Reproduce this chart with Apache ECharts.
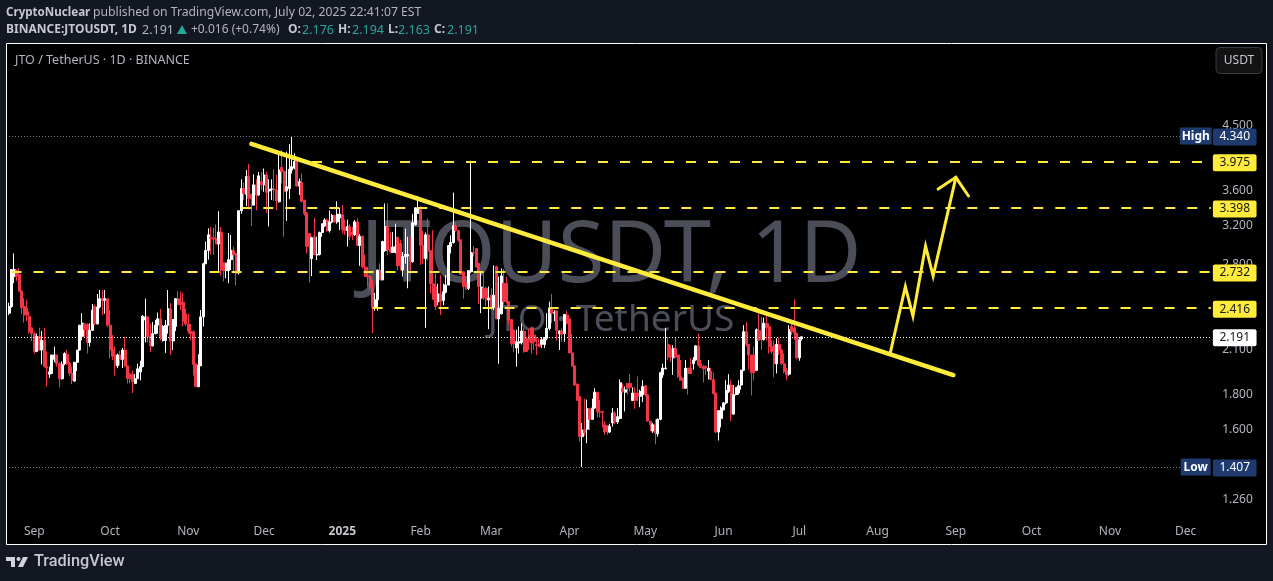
<!DOCTYPE html>
<html><head><meta charset="utf-8">
<style>html,body{margin:0;padding:0;background:#131722}#c{width:1273px;height:581px}</style>
<script src="https://cdn.jsdelivr.net/npm/echarts@6/dist/echarts.min.js"></script>
</head><body><div id="c"></div>
<script>
// [open, close, low, high]
const candlesA=[
[2.375,2.43,2.36,2.46],[2.43,2.755,2.42,2.76],[2.69,2.755,2.63,2.91],[2.75,2.69,2.65,2.755],[2.71,2.56,2.555,2.77],[2.56,2.42,2.365,2.57],[2.43,2.36,2.30,2.50],[2.415,2.36,2.31,2.485],[2.35,2.23,2.215,2.39],[2.26,2.215,2.16,2.265],
[2.215,2.085,2.07,2.23],[2.085,2.195,2.08,2.215],[2.195,2.095,2.09,2.26],[2.095,2.165,1.995,2.235],[2.165,1.98,1.975,2.26],[1.98,1.97,1.85,2.085],[1.93,1.945,1.905,1.98],[1.935,2.06,1.93,2.06],[2.03,2.06,2.01,2.12],[2.06,2.00,1.98,2.06],
[2.00,1.90,1.845,2.01],[1.90,1.995,1.895,2.015],[2.00,2.07,1.99,2.08],[2.065,2.00,1.99,2.095],[2.005,1.935,1.915,2.01],[1.935,1.89,1.865,1.98],[1.885,2.01,1.88,2.01],[2.01,2.095,1.95,2.095],[2.095,2.28,2.09,2.28],[2.195,2.295,2.165,2.375],
[2.29,2.245,2.19,2.295],[2.285,2.15,2.07,2.295],[2.15,2.24,2.12,2.295],[2.24,2.40,2.24,2.45],[2.43,2.29,2.28,2.445],[2.29,2.425,2.285,2.535],[2.425,2.495,2.415,2.57],[2.495,2.48,2.36,2.57],[2.48,2.495,2.37,2.57],[2.495,2.28,2.265,2.495],
[2.28,2.095,2.035,2.40],[2.10,2.05,2.025,2.205],[2.06,1.99,1.92,2.12],[1.985,2.06,1.97,2.07],[2.06,2.03,1.99,2.09],[2.03,2.095,1.97,2.11],[2.095,1.985,1.98,2.19],[1.985,1.90,1.87,1.99],[1.93,1.90,1.87,1.94],[1.93,1.88,1.81,1.955],
[1.87,1.90,1.865,1.93],[1.90,1.965,1.90,2.00],[1.945,1.98,1.89,2.02],[1.98,2.35,1.975,2.36],[2.32,2.345,2.15,2.495],[2.345,2.19,2.15,2.345],[2.20,2.125,2.08,2.295],[2.125,2.215,2.12,2.305],[2.215,2.28,2.21,2.32],[2.28,2.33,2.215,2.38],
[2.33,2.18,2.165,2.41],[2.165,2.27,2.155,2.28],[2.165,2.28,2.075,2.32],[2.28,2.41,2.215,2.57],[2.41,2.16,2.06,2.46],[2.16,2.325,2.095,2.325],[2.27,2.495,2.235,2.50],[2.495,2.445,2.445,2.56],[2.47,2.445,2.40,2.555],[2.465,2.31,2.27,2.545],
[2.37,2.29,2.275,2.41],[2.29,2.235,2.215,2.37],[2.235,2.215,2.165,2.29],[2.23,1.995,1.92,2.24],[2.00,1.85,1.85,2.00],[1.85,1.99,1.845,2.065],[1.985,2.345,1.985,2.40],[2.345,2.81,2.27,2.82],[2.81,2.94,2.805,3.03],[2.94,3.10,2.85,3.17],
[3.075,3.065,2.90,3.185],[3.07,3.055,2.895,3.175],[3.06,3.005,3.005,3.21],[3.005,3.13,2.725,3.36],[3.13,2.75,2.70,3.185],[2.82,2.745,2.645,2.82],[2.745,2.815,2.675,2.82],[2.745,2.85,2.63,3.12],[2.85,2.94,2.75,3.10],[2.94,2.895,2.72,2.98],
[2.91,2.72,2.61,2.91],[2.725,3.365,2.71,3.37],[3.365,3.63,3.33,3.745],[3.63,3.57,3.49,3.705],[3.56,3.78,3.42,3.865],[3.78,3.51,3.38,3.945],[3.56,3.50,3.195,3.56],[3.43,3.675,3.43,3.81],[3.675,3.55,3.37,3.745],[3.55,3.79,3.54,3.84],
[3.715,3.675,3.61,3.84],[3.675,3.80,3.59,3.885],[3.80,3.58,3.34,3.84],[3.60,3.62,3.19,3.745]];
const candlesB=[
[3.62,3.625,3.49,3.745],[3.62,3.61,3.48,3.875],[3.61,3.48,3.37,3.80],[3.47,3.865,3.46,4.105],[3.90,3.845,3.695,4.14],[3.845,3.59,3.08,3.865],[3.60,3.65,3.25,4.115],[3.63,3.875,3.50,4.22],[3.865,3.91,3.82,4.34],[3.89,3.98,3.875,4.09],
[3.99,3.66,3.655,3.99],[3.66,3.715,3.55,3.755],[3.705,3.475,3.46,3.82],[3.49,3.33,3.31,3.49],[3.34,2.98,2.91,3.35],[3.115,2.98,2.635,3.115],[2.86,3.07,2.695,3.08],[3.08,2.895,2.895,3.285],[2.895,2.90,2.845,3.08],[2.90,3.125,2.89,3.135],
[3.125,3.22,3.08,3.22],[3.195,3.26,3.185,3.28],[3.26,3.145,3.135,3.28],[3.145,3.24,3.125,3.37],[3.24,3.31,3.225,3.33],[3.31,3.24,3.23,3.32],[3.24,3.325,3.22,3.475],[3.285,3.325,3.15,3.40],[3.32,3.16,3.115,3.43],[3.185,3.145,3.10,3.265],
[3.145,3.19,2.98,3.265],[3.19,3.085,3.045,3.215],[3.13,3.10,3.045,3.185],[3.10,3.24,3.09,3.26],[3.24,2.99,2.99,3.28],[2.99,3.085,2.79,3.11],[3.085,2.78,2.765,3.095],[2.78,2.69,2.69,2.90],[2.695,2.685,2.60,2.78],[2.69,2.59,2.565,2.705],
[2.59,2.42,2.22,2.66],[2.42,2.485,2.395,2.545],[2.485,2.75,2.395,2.755],[2.75,2.66,2.66,2.815],[2.66,3.03,2.655,3.04],[2.94,3.19,2.925,3.45],[3.19,2.945,2.895,3.45],[2.955,2.925,2.91,3.13],[2.92,2.975,2.92,3.13],[2.92,2.98,2.91,3.22],
[3.075,2.79,2.75,3.075],[3.01,2.79,2.745,3.045],[2.75,2.88,2.69,2.925],[2.88,2.90,2.81,3.165],[2.885,2.90,2.585,3.08],[2.90,2.83,2.735,3.08],[2.83,3.23,2.82,3.33],[3.21,3.40,3.20,3.40],[3.335,3.40,3.33,3.54],[3.40,2.99,2.80,3.42],
[2.99,2.86,2.81,3.145],[2.86,3.10,2.26,3.125],[3.10,2.935,2.845,3.28],[2.94,2.625,2.54,2.94],[2.625,2.49,2.485,3.15],[2.60,2.43,2.40,2.72],[2.47,2.535,2.44,2.625],[2.535,2.47,2.36,2.705],[2.48,2.555,2.44,2.625],[2.55,2.615,2.54,2.705],
[2.615,2.99,2.61,2.995],[2.98,3.02,2.91,3.095],[3.02,3.20,3.01,3.58],[3.20,3.145,3.135,3.235],[3.145,3.045,3.03,3.15],[3.05,2.71,2.705,3.05],[2.735,2.60,2.495,2.735],[2.635,2.585,2.57,2.69],[2.585,2.745,2.57,2.75],[2.735,2.92,2.72,3.99],
[2.92,2.915,2.88,2.985],[2.96,2.78,2.775,2.96],[2.815,2.60,2.45,2.815],[2.50,2.595,2.375,2.735],[2.585,2.50,2.485,2.735],[2.585,2.485,2.43,2.60],[2.485,2.50,2.25,2.60],[2.525,2.42,2.40,2.585],[2.42,2.525,2.40,2.795],[2.785,2.33,2.33,2.79],
[2.33,2.415,2.00,2.69],[2.37,2.695,2.365,2.765],[2.63,2.47,2.445,2.76],[2.63,2.47,2.455,2.69],[2.47,2.32,2.285,2.47],[2.325,2.14,2.12,2.325],[2.24,2.14,2.08,2.25],[2.11,2.155,1.98,2.245],[2.145,2.155,2.07,2.27],[2.15,2.235,2.135,2.295],
[2.235,2.085,2.075,2.26],[2.18,2.085,2.08,2.19],[2.205,2.155,2.095,2.25],[2.26,2.145,2.07,2.27],[2.205,2.155,2.095,2.265],[2.135,2.125,2.06,2.19],[2.14,2.12,2.12,2.18]];
const candlesC=[
[2.135,2.17,2.11,2.19],[2.135,2.18,2.11,2.19],[2.18,2.255,2.165,2.375],[2.255,2.415,2.24,2.47],[2.415,2.375,2.295,2.535],[2.375,2.38,2.31,2.40],[2.395,2.24,2.165,2.395],[2.215,2.235,2.095,2.24],[2.235,2.21,2.155,2.255],[2.215,2.365,2.155,2.365],
[2.36,2.295,2.285,2.395],[2.33,2.075,2.07,2.33],[2.075,1.985,1.98,2.215],[1.985,1.86,1.855,1.985],[1.865,1.765,1.765,1.87],[1.79,1.56,1.535,1.79],[1.56,1.595,1.407,1.635],[1.60,1.58,1.565,1.775],[1.60,1.715,1.525,1.77],[1.715,1.655,1.595,1.72],
[1.655,1.72,1.655,1.775],[1.72,1.815,1.715,1.84],[1.815,1.70,1.665,1.815],[1.70,1.695,1.665,1.77],[1.70,1.695,1.61,1.70],[1.625,1.585,1.57,1.645],[1.62,1.585,1.57,1.62],[1.585,1.615,1.58,1.63],[1.635,1.69,1.615,1.72],[1.69,1.64,1.63,1.70],
[1.64,1.67,1.63,1.72],[1.66,1.875,1.655,1.895],[1.84,1.82,1.81,1.87],[1.815,1.83,1.70,1.85],[1.87,1.84,1.80,1.87],[1.87,1.845,1.82,1.93],[1.765,1.81,1.76,1.845],[1.81,1.765,1.715,1.845],[1.81,1.79,1.76,1.915],[1.79,1.82,1.725,1.83],
[1.80,1.85,1.755,1.89],[1.855,1.80,1.79,1.855],[1.80,1.645,1.645,1.80],[1.645,1.625,1.59,1.645],[1.59,1.625,1.58,1.635],[1.625,1.58,1.52,1.655],[1.575,1.655,1.56,1.66],[1.655,1.94,1.65,1.945],[1.925,1.97,1.905,2.00],[1.965,1.97,1.965,2.26],
[2.135,2.045,2.025,2.19],[2.105,2.045,2.015,2.13],[2.04,2.105,1.925,2.13],[2.105,2.045,2.045,2.19],[2.06,1.915,1.905,2.06],[1.915,1.89,1.89,2.025],[1.905,1.84,1.835,1.905],[1.84,1.97,1.835,2.025],[1.97,1.935,1.80,1.97],[1.97,1.935,1.935,2.04],
[2.00,2.025,1.96,2.045],[2.025,2.125,2.02,2.13],[2.125,1.99,1.985,2.215],[2.00,1.975,1.97,2.025],[1.98,1.965,1.875,1.99],[1.98,1.97,1.925,1.99],[1.95,1.97,1.895,2.025],[1.95,1.895,1.895,1.97],[1.895,1.805,1.805,1.94],[1.81,1.585,1.58,1.81],
[1.585,1.705,1.54,1.705],[1.66,1.72,1.61,1.73],[1.71,1.75,1.705,1.755],[1.75,1.825,1.74,1.89],[1.82,1.86,1.81,1.93],[1.86,1.685,1.645,1.89],[1.685,1.80,1.68,1.86],[1.80,1.845,1.795,1.845],[1.81,1.855,1.80,1.89],[1.86,1.955,1.83,1.96],
[1.955,2.23,1.95,2.28],[2.23,2.135,2.12,2.305],[2.135,2.06,1.96,2.135],[2.06,1.94,1.795,2.06],[2.06,1.94,1.89,2.12],[1.955,2.245,1.95,2.255],[2.24,2.165,2.165,2.415],[2.24,2.17,2.095,2.345],[2.17,2.295,2.165,2.34],[2.295,2.26,2.165,2.375],
[2.27,2.12,2.07,2.295],[2.12,2.085,2.07,2.165],[2.13,2.00,1.91,2.165],[2.00,2.135,1.935,2.18],[2.135,2.095,2.06,2.185],[2.095,2.00,1.99,2.105],[2.00,1.945,1.935,2.07],[1.955,1.925,1.89,1.97],[1.93,2.245,1.92,2.28],[2.27,2.23,2.205,2.295],
[2.26,2.22,2.17,2.49],[2.22,2.04,2.03,2.22],[2.04,2.17,2.02,2.19],[2.176,2.191,2.163,2.194]];
const firstDate='2024-08-22', dayCount=477;
const monthLabels={'2024-09-01':'Sep','2024-10-01':'Oct','2024-11-01':'Nov','2024-12-01':'Dec','2025-01-01':'2025','2025-02-01':'Feb','2025-03-01':'Mar','2025-04-01':'Apr','2025-05-01':'May','2025-06-01':'Jun','2025-07-01':'Jul','2025-08-01':'Aug','2025-09-01':'Sep','2025-10-01':'Oct','2025-11-01':'Nov','2025-12-01':'Dec'};
const priceTicks=[1.26,1.6,1.8,2.1,2.8,3.2,3.6,4.5];
// [price, first date index of the dashed line]
const levels=[[3.975,120],[3.398,92],[2.732,1],[2.416,144]];
const currentPrice=2.191, highPrice=4.340, lowPrice=1.407;
const trendline=[[96,4.225],[374,1.924]];
const arrowPath=[[349,2.072],[355,2.599],[358,2.352],[363,2.985],[366,2.695],[375,3.770]];
const arrowHead=[[368,3.623],[375,3.770],[380,3.538]];

const YEL='#FFEB3B', TXT='#b2b5be', FONT='"Noto Sans",sans-serif', NAVY='#1e3a6e', TEAL='#26a69a', BOLD='#c5c8cf';
const candles=candlesA.concat(candlesB,candlesC);
const dates=[];
{const d0=Date.parse(firstDate+'T00:00:00Z');
 for(let i=0;i<dayCount;i++)dates.push(new Date(d0+i*864e5).toISOString().slice(0,10));}
const last=dates.length-1;

function tag(v,bg,fg){return {
  formatter:v.toFixed(3),position:'end',distance:2,offset:[0,1],color:fg,backgroundColor:bg,
  padding:[4,6.5,1,6.5],lineHeight:12,fontSize:12,fontFamily:FONT,borderRadius:2,show:true};}
const markData=[];
levels.forEach(([v,s])=>markData.push([{coord:[s,v],lineStyle:{color:YEL,width:2,type:[10,12]},label:tag(v,YEL,'#131722')},{coord:[last,v]}]));
markData.push([{coord:[0,currentPrice],lineStyle:{color:'#ffffff',width:1,type:[1,2]},label:tag(currentPrice,'#ffffff','#131722')},{coord:[last,currentPrice]}]);
markData.push([{coord:[0,highPrice],lineStyle:{color:'#787b86',width:1,type:[1,2]},label:tag(highPrice,NAVY,'#ffffff')},{coord:[last,highPrice]}]);
markData.push([{coord:[0,lowPrice],lineStyle:{color:'#787b86',width:1,type:[1,2]},label:tag(lowPrice,NAVY,'#ffffff')},{coord:[last,lowPrice]}]);

function lineSeries(d,w){return {type:'line',data:d,showSymbol:false,symbol:'none',silent:true,z:6,animation:false,
  lineStyle:{color:YEL,width:w,cap:'round',join:'miter'}};}
function headText(text,x,y,font,fill){return {type:'text',silent:true,x,y,style:{text,font:font+' '+FONT,fill,textVerticalAlign:'middle'}};}

const chart=echarts.init(document.getElementById('c'),null,{renderer:'canvas'});
chart.setOption({
  animation:false,backgroundColor:'#131722',
  grid:{left:7.74,top:43.5,width:1204.4,height:501,containLabel:false},
  xAxis:{type:'category',data:dates,boundaryGap:true,
    axisLine:{show:false},axisTick:{show:false},splitLine:{show:false},
    axisLabel:{inside:true,margin:7,color:TXT,fontSize:12,fontFamily:FONT,hideOverlap:false,
      interval:(i,v)=>monthLabels[v]!==undefined,
      formatter:v=>monthLabels[v]==='2025'?'{y|2025}':(monthLabels[v]||''),
      rich:{y:{fontWeight:'bold',color:BOLD,fontSize:12,fontFamily:FONT}}}},
  yAxis:{type:'log',logBase:10,position:'right',min:1.081,max:5.945,
    axisLine:{show:false},axisTick:{show:false},splitLine:{show:false},minorSplitLine:{show:false},
    axisLabel:{customValues:priceTicks,margin:10,color:TXT,fontSize:12,fontFamily:FONT,showMinLabel:true,showMaxLabel:true,
      formatter:v=>Number(v).toFixed(3)}},
  series:[
    {type:'candlestick',data:candles,barWidth:2.5,silent:true,z:3,
     itemStyle:{color:'#ffffff',color0:'#f23645',borderColor:'#ffffff',borderColor0:'#f23645',borderWidth:1},
     markLine:{silent:true,symbol:'none',animation:false,data:markData},
     markPoint:{silent:true,animation:false,data:[
       {coord:[470,highPrice],symbol:'rect',symbolSize:[32,17],itemStyle:{color:NAVY},
        label:{show:true,formatter:'High',color:'#fff',fontSize:12,fontFamily:FONT,fontWeight:'bold',position:'inside',offset:[0,1]}},
       {coord:[470,lowPrice],symbol:'rect',symbolSize:[30,17],itemStyle:{color:NAVY},
        label:{show:true,formatter:'Low',color:'#fff',fontSize:12,fontFamily:FONT,fontWeight:'bold',position:'inside',offset:[0,1]}}]}},
    lineSeries(trendline,4.5),lineSeries(arrowPath,3),lineSeries(arrowHead,3)
  ],
  graphic:[
    {type:'rect',z:-10,silent:true,shape:{x:6.5,y:43.5,width:1260,height:501},style:{fill:'#000',stroke:'#fff',lineWidth:1}},
    {type:'text',z:-5,silent:true,x:611,y:258,style:{text:'JTOUSDT, 1D',fill:'#4b4e59',font:'85px '+FONT,textAlign:'center',textVerticalAlign:'middle'}},
    {type:'text',z:-5,silent:true,x:611,y:320,style:{text:'JTO · TetherUS',fill:'#4b4e59',font:'37px '+FONT,textAlign:'center',textVerticalAlign:'middle'}},
    headText('CryptoNuclear',6,13,'bold 11.6px',BOLD),
    headText('published on TradingView.com, July 02, 2025 22:41:07 EST',93,13,'12.2px',TXT),
    headText('BINANCE:JTOUSDT, 1D',6,30,'bold 12px',BOLD),
    headText('2.191',142,30,'12.5px',TXT),
    {type:'polygon',silent:true,shape:{points:[[177,34],[187,34],[182,25]]},style:{fill:TEAL}},
    headText('+0.016 (+0.74%)',191,30,'12px',TXT),
    headText('O:',288,30,'bold 12px',BOLD),headText('2.176',302,30,'12.5px',TEAL),
    headText('H:',338,30,'bold 12px',BOLD),headText('2.194',352,30,'12.5px',TEAL),
    headText('L:',388,30,'bold 12px',BOLD),headText('2.163',398,30,'12.5px',TEAL),
    headText('C:',434,30,'bold 12px',BOLD),headText('2.191',447,30,'12.5px',TEAL),
    headText('JTO / TetherUS · 1D · BINANCE',15,60.5,'12.5px',TXT),
    {type:'rect',silent:true,shape:{x:1216,y:47.5,width:46,height:26,r:4},style:{fill:'#131313',stroke:'#363a45',lineWidth:1}},
    {type:'text',silent:true,x:1239,y:61,style:{text:'USDT',fill:BOLD,font:'12px '+FONT,textAlign:'center',textVerticalAlign:'middle'}},
    {type:'polygon',silent:true,shape:{points:[[6,557],[15,557],[15,567],[11,567],[11,561],[6,561]]},style:{fill:'#d1d4dc'}},
    {type:'circle',silent:true,shape:{cx:18.5,cy:559,r:2},style:{fill:'#d1d4dc'}},
    {type:'polygon',silent:true,shape:{points:[[23,557],[28,557],[23,567],[18,567]]},style:{fill:'#d1d4dc'}},
    {type:'text',silent:true,x:34,y:562,style:{text:'TradingView',fill:'#c5c8cf',font:'500 16.3px Roboto,'+FONT,textVerticalAlign:'middle'}}
  ]
});
</script></body></html>
